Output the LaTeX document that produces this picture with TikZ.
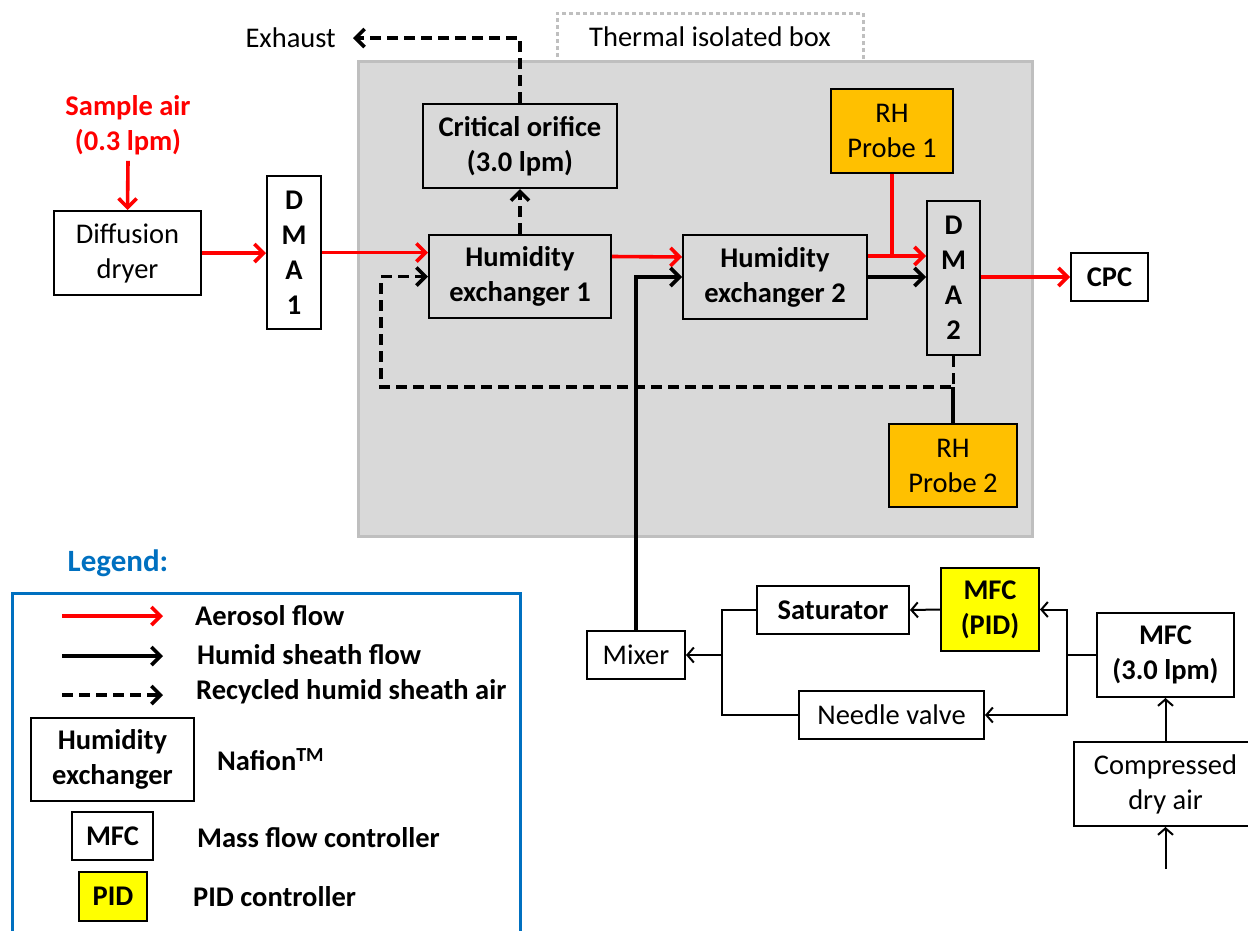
\documentclass[tikz,border=0pt]{standalone}
\usepackage{fontspec}
\setmainfont{Carlito}
\usetikzlibrary{arrows.meta,calc}
\definecolor{boxgray}{RGB}{217,217,217}
\definecolor{edgegray}{RGB}{191,191,191}
\definecolor{probeor}{RGB}{255,192,0}
\definecolor{pidyel}{RGB}{255,255,0}
\definecolor{legblue}{RGB}{0,112,192}
\definecolor{aerored}{RGB}{255,0,0}
\begin{document}
\begin{tikzpicture}[x=1pt,y=-1pt,
  font=\fontsize{28.5}{35}\selectfont,
  blk/.style={draw=black, line width=2pt, inner sep=0pt, align=center},
  bblk/.style={blk, font=\fontsize{28.5}{35}\selectfont\bfseries},
  txt/.style={inner sep=0pt, align=center},
  aer/.style={draw=aerored, line width=3.6pt, -{Straight Barb[length=9pt,width=18pt]}},
  aerline/.style={draw=aerored, line width=3.6pt},
  hum/.style={draw=black, line width=3.6pt, -{Straight Barb[length=9pt,width=18pt]}},
  humline/.style={draw=black, line width=3.6pt},
  rec/.style={hum, dash pattern=on 11pt off 6pt},
  thinar/.style={draw=black, line width=2pt, -{Straight Barb[length=6.5pt,width=15pt]}},
  thinline/.style={draw=black, line width=2pt}
]
\useasboundingbox (0,0) rectangle (1248,930);

% thermal isolated box
\node[draw=edgegray, line width=3pt, dash pattern=on 4pt off 3pt, fill=white, minimum width=306, minimum height=48, inner sep=0pt] (therm) at (710,37) {Thermal isolated box};
\node[draw=edgegray, line width=3pt, fill=boxgray, minimum width=674, minimum height=475, inner sep=0pt] (gbox) at (695,298.5) {};

% top-left
\node[txt, text=aerored, font=\fontsize{28.5}{35}\selectfont\bfseries] (samp) at (128,125) {Sample air\\(0.3 lpm)};
\node[blk, minimum width=147, minimum height=84] (dryer) at (127.5,253) {Diffusion\\dryer};
\node[bblk, minimum width=54, minimum height=153] (dma1) at (294,252.5) {D\\M\\A\\1};
\node[txt, anchor=east] (exh) at (336,38) {Exhaust};

% inside box
\node[bblk, minimum width=194, minimum height=84] (crit) at (520,146) {Critical orifice\\(3.0 lpm)};
\node[bblk, minimum width=182, minimum height=83] (he1) at (520,276.5) {Humidity\\exchanger 1};
\node[bblk, minimum width=184, minimum height=84] (he2) at (775,277) {Humidity\\exchanger 2};
\node[blk, fill=probeor, minimum width=122, minimum height=84] (probe1) at (892,131) {RH\\Probe 1};
\node[bblk, minimum width=53, minimum height=154] (dma2) at (953.5,278) {D\\M\\A\\2};
\node[blk, fill=probeor, minimum width=128, minimum height=83] (probe2) at (953,465.5) {RH\\Probe 2};
\node[bblk, fill=white, minimum width=77, minimum height=48] (cpc) at (1109.5,277) {CPC};

% bottom right
\node[blk, fill=white, minimum width=98, minimum height=48] (mixer) at (636,655) {Mixer};
\node[bblk, fill=white, minimum width=152, minimum height=48] (sat) at (833,610) {Saturator};
\node[bblk, fill=pidyel, minimum width=98, minimum height=83] (mfcpid) at (990,609.5) {MFC\\(PID)};
\node[blk, fill=white, minimum width=185, minimum height=48] (needle) at (891.5,715) {Needle valve};
\node[bblk, fill=white, minimum width=137, minimum height=84] (mfc3) at (1165.5,655) {MFC\\(3.0 lpm)};
\node[blk, fill=white, minimum width=184, minimum height=84] (comp) at (1165.5,784) {Compressed\\dry air};

% connectors top
\draw[aer] ([yshift=-6pt]samp.south) -- (dryer.north);
\draw[aer] (dryer.east) -- (dma1.west |- dryer.east);
\draw[aer] (dma1.east) -- (he1.west |- dma1.east);
\draw[aer] ([yshift=20pt]he1.east) -- ([yshift=20pt]he2.west);
\coordinate (r2) at ([yshift=21pt]he2.east);
\draw[aer] (r2) -- (dma2.west |- r2);
\draw[aerline] (probe1.south) -- (probe1.south |- r2);
\draw[hum] (he2.east) -- (dma2.west |- he2.east);
\draw[aer] (dma2.east |- cpc.west) -- (cpc.west);
\draw[rec] (he1.north) -- (crit.south);
\draw[rec] (crit.north) |- ([xshift=17pt]exh.east);
\coordinate (rl) at (381,387);
\draw[rec] (dma2.south) |- (rl) |- (he1.west);
\draw[humline] (probe2.north) -- (probe2.north |- rl);
\draw[hum] (mixer.north) |- (he2.west);

% connectors bottom
\coordinate (sp) at (1067,655);
\draw[thinline] (mfc3.west) -- (sp);
\draw[thinar] (sp) |- (mfcpid.east);
\draw[thinar] (sp) |- (needle.east);
\draw[thinar] (mfcpid.west) -- (sat.east);
\coordinate (mj) at (722,655);
\draw[thinline] (sat.west) -| (mj |- needle.west) -- (needle.west);
\draw[thinar] (mj) -- (mixer.east);
\draw[thinar] (comp.north) -- (mfc3.south);
\coordinate (cin) at (1165.5,869);
\draw[thinar] (cin) -- (comp.south);

% legend
\node[txt, text=legblue, font=\fontsize{31}{35}\selectfont\bfseries] (legt) at (118,563) {Legend:};
\draw[draw=legblue, line width=3pt] (12,940) -- (12,593) -- (520,593) -- (520,940);
\coordinate (la1) at (62,616); \coordinate (lb1) at (163,616);
\coordinate (la2) at (62,656); \coordinate (lb2) at (163,656);
\coordinate (la3) at (62,695); \coordinate (lb3) at (163,695);
\draw[aer] (la1) -- (lb1);
\draw[hum] (la2) -- (lb2);
\draw[rec] (la3) -- (lb3);
\node[txt, anchor=west, font=\fontsize{28.5}{35}\selectfont\bfseries] (lt1) at (195,616) {Aerosol flow};
\node[txt, anchor=west, font=\fontsize{28.5}{35}\selectfont\bfseries] (lt2) at (197,655) {Humid sheath flow};
\node[txt, anchor=west, font=\fontsize{28.5}{35}\selectfont\bfseries] (lt3) at (196,692) {Recycled humid sheath air};
\node[bblk, minimum width=163, minimum height=83] (lhe) at (112.5,759.5) {Humidity\\exchanger};
\node[txt, anchor=west, font=\fontsize{28.5}{35}\selectfont\bfseries] (lt4) at (217,760) {Nafion\textsuperscript{TM}};
\node[bblk, minimum width=81, minimum height=48] (lmfc) at (112.5,836) {MFC};
\node[txt, anchor=west, font=\fontsize{28.5}{35}\selectfont\bfseries] (lt5) at (197,838) {Mass flow controller};
\node[bblk, fill=pidyel, minimum width=68, minimum height=49] (lpid) at (113,896.5) {PID};
\node[txt, anchor=west, font=\fontsize{28.5}{35}\selectfont\bfseries] (lt6) at (193,897) {PID controller};
\end{tikzpicture}
\end{document}
